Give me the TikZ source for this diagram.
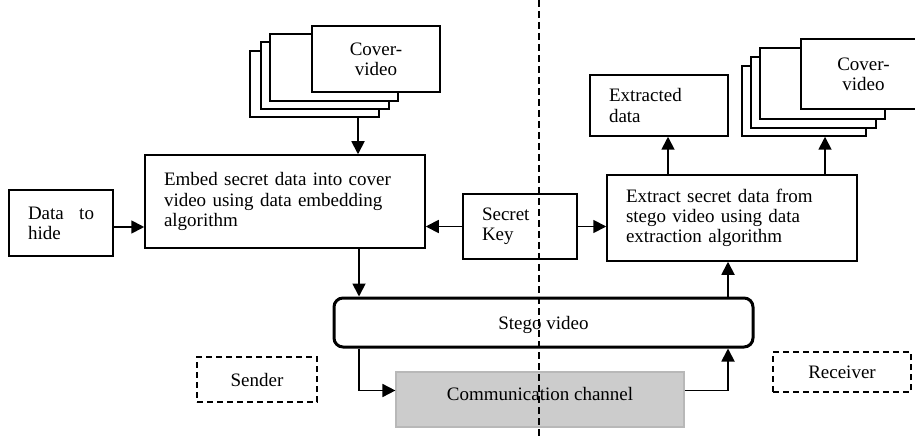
\documentclass[tikz,border=0pt]{standalone}
\usepackage{fontspec}
\setmainfont{Liberation Serif}
\usetikzlibrary{arrows.meta,calc}
\tikzset{
  txt/.style={font=\fontsize{19pt}{20.2pt}\selectfont},
  box/.style={draw, line width=1.5pt, fill=white, inner sep=0pt, txt},
  lbox/.style={box, align=left, inner xsep=19pt, inner ysep=0pt},
  cbox/.style={box, align=center},
  sheet/.style={draw, line width=1.5pt, fill=white, inner sep=0pt},
  stegobox/.style={draw, line width=3pt, rounded corners=9pt, inner sep=0pt, txt},
  commbox/.style={draw=black!28, line width=1.2pt, fill=black!20, inner sep=0pt},
  rolebox/.style={draw, line width=1.5pt, dash pattern=on 6pt off 4pt, inner sep=0pt, txt},
  arr/.style={line width=1.8pt, -{Triangle[length=13pt,width=13pt]}},
  divider/.style={line width=1.6pt, dash pattern=on 7pt off 4pt},
}
\begin{document}
\begin{tikzpicture}[x=1pt,y=-1pt]
\clip (0,0) rectangle (915,438);
\fill[white] (0,0) rectangle (915,438);

% sender cover-video stack
\node[sheet, minimum width=129pt, minimum height=66pt] (cs4) at (314.5,84) {};
\node[sheet, minimum width=128pt, minimum height=67pt] (cs3) at (325,75.5) {};
\node[sheet, minimum width=128pt, minimum height=67pt] (cs2) at (334,67.5) {};
\node[cbox, minimum width=128pt, minimum height=66pt] (cs1) at (376,59) {Cover-\\video};

% receiver cover-video stack
\node[sheet, minimum width=124pt, minimum height=70pt] (cr4) at (804,101) {};
\node[sheet, minimum width=125pt, minimum height=71pt] (cr3) at (813.5,92.5) {};
\node[sheet, minimum width=125pt, minimum height=71pt] (cr2) at (822.5,83.5) {};
\node[cbox, minimum width=125pt, minimum height=70pt] (cr1) at (863.5,74) {Cover-\\video};

% main boxes
\node[lbox, text width=242pt, minimum height=93pt] (embed) at (285,201.5)
  {Embed secret data into cover\\video using data embedding\\algorithm};
\node[lbox, text width=66pt, minimum height=66pt] (data) at (61,223)
  {Data\hfill to\\hide};
\node[lbox, text width=76pt, minimum height=65pt] (key) at (520,226.5)
  {Secret\\Key};
\node[lbox, text width=212pt, minimum height=86pt] (extract) at (732,218)
  {Extract secret data from\\stego video using data\\extraction algorithm};
\node[lbox, text width=100pt, minimum height=61pt] (extracted) at (659,105.5)
  {Extracted\\data};

\node[stegobox, minimum width=419pt, minimum height=49pt] (stego) at (543.5,322.5) {};
\node[txt] (stegolbl) at ([yshift=-2pt]stego.center) {Stego video};

\node[commbox, minimum width=288pt, minimum height=55pt] (comm) at (540,399.5) {};
\node[txt] (commlbl) at ([yshift=6pt]comm.center) {Communication channel};

\node[rolebox, minimum width=120pt, minimum height=45pt] (sender) at (257,379.5) {Sender};
\node[rolebox, minimum width=138pt, minimum height=40pt] (receiver) at (842,372) {Receiver};

% divider
\coordinate (dtop) at (539,0);
\coordinate (dbot) at (539,438);
\draw[divider] (dtop) -- (dbot);

% connectors
\draw[arr] ([xshift=43.5pt]cs4.south) -- ([xshift=43.5pt]cs4.south |- embed.north);
\draw[arr] ([yshift=-4pt]data.east) -- ([yshift=-4pt]data.east -| embed.west);
\draw[arr] (key.west) -- (key.west -| embed.east);
\draw[arr] (key.east) -- (key.east -| extract.west);
\draw[arr] ([xshift=74pt]embed.south) -- ([xshift=74pt]embed.south |- stego.north);
\draw[arr] ([xshift=-184.5pt]stego.south) |- ([yshift=9pt]comm.west);
\draw[arr] ([yshift=9pt]comm.east) -| ([xshift=184.5pt]stego.south);
\draw[arr] ([xshift=184.5pt]stego.north) -- ([xshift=184.5pt]stego.north |- extract.south);
\draw[arr] ([xshift=-64pt]extract.north) -- ([xshift=-64pt]extract.north |- extracted.south);
\draw[arr] ([xshift=93pt]extract.north) -- ([xshift=93pt]extract.north |- cr4.south);
\end{tikzpicture}
\end{document}
